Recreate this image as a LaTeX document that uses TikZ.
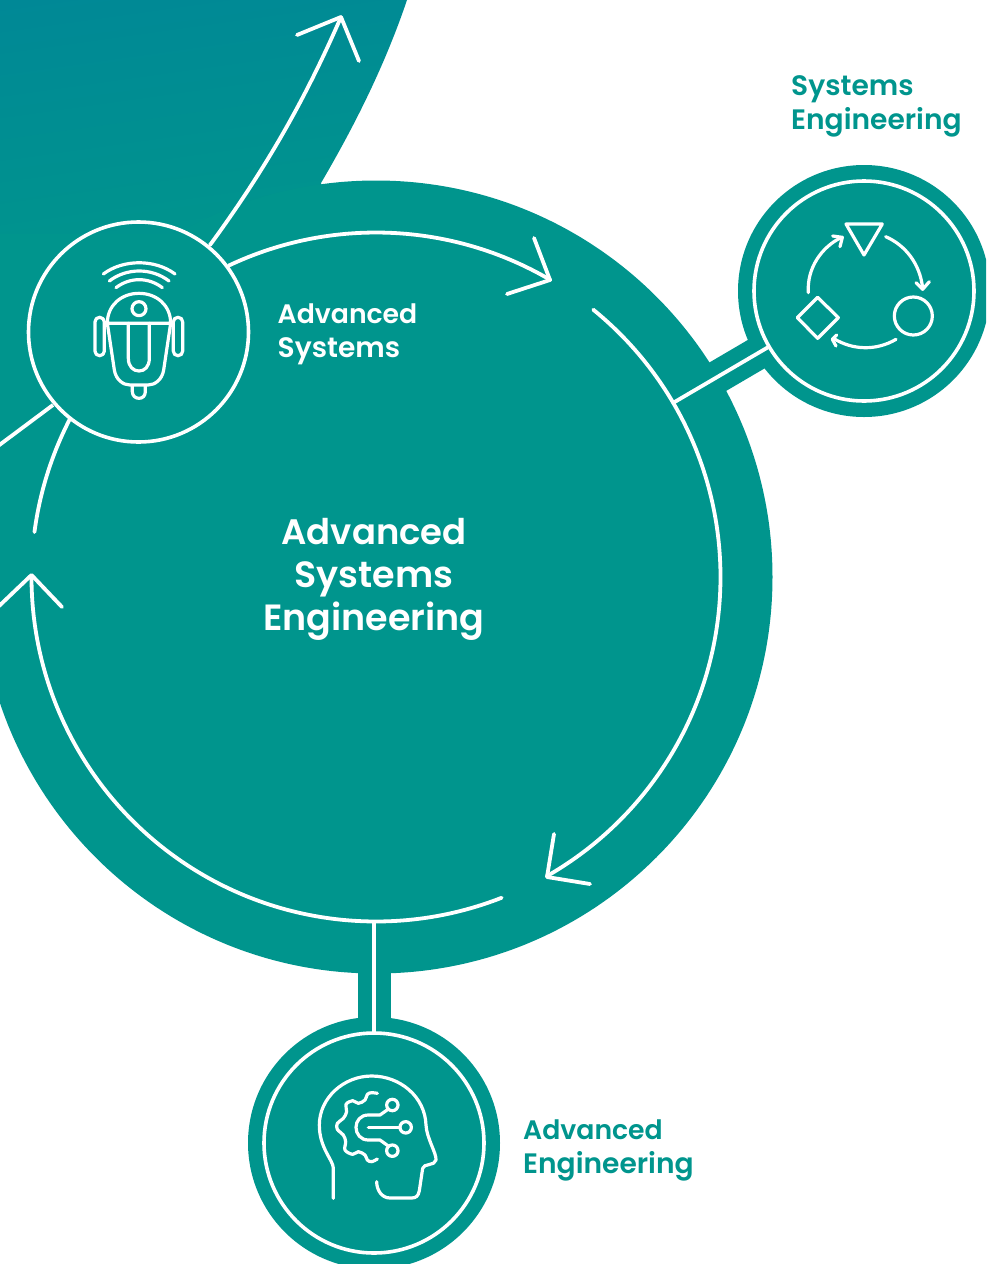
\documentclass[tikz,border=0pt]{standalone}
\usepackage{fontspec}
\setmainfont{Poppins}[BoldFont=Poppins SemiBold]
\usetikzlibrary{arrows.meta}
\definecolor{teal1}{HTML}{00958D}
\definecolor{teal2}{HTML}{008896}
\newcommand{\bigA}{\fontsize{35.4}{43}\selectfont}
\newcommand{\smA}{\fontsize{26.7}{34}\selectfont}
\tikzset{
  x=1pt,y=1pt,
  wline/.style={draw=white,line width=3.8pt,line cap=round,line join=round},
  icon/.style={draw=white,line width=3.2pt,line cap=round,line join=round},
  ringnode/.style={circle,draw=white,line width=3.6pt,inner sep=0pt,minimum size=#1},
  blob/.style={circle,fill=teal1,inner sep=0pt,minimum size=#1},
  bigtxt/.style={text=white,font=\bfseries\fontsize{36.5}{43}\selectfont,align=center},
  smalltxt/.style={font=\bfseries\fontsize{28.1}{34}\selectfont,align=left,inner sep=0pt},
}
\begin{document}
\begin{tikzpicture}
\useasboundingbox (0,-1264) rectangle (986,0);
\begin{scope}
\clip (0,-1264) rectangle (986,0);
% gradient backdrop
\begin{scope}
\clip (-50,60) -- (407,0) .. controls (385,-65) and (355,-125) .. (321,-183) -- (374,-577) -- (-50,-720) -- cycle;
\shade[shading=axis,bottom color=teal1,top color=teal2,shading angle=8] (-60,-235) rectangle (440,10);
\fill[teal1] (-60,-760) rectangle (440,-234);
\end{scope}
% blobs and bands
\coordinate (C) at (376,-577);
\node[blob=793pt] (mainblob) at (C) {};
\node[blob=252pt] (sysblob) at (864,-291) {};
\node[blob=252pt] (engblob) at (374,-1143) {};
\coordinate (bandS) at (374,-923);
\draw[teal1,line width=33pt] (mainblob.center) -- (sysblob.center);
\draw[teal1,line width=33pt] (bandS) -- (engblob.center);
% rings
\node[circle,inner sep=0pt,minimum size=689pt] (mainring) at (C) {};
\node[ringnode=220pt] (robot) at (138.5,-332) {};
\node[ringnode=220pt] (sys) at (864,-291) {};
\node[ringnode=220pt] (eng) at (374,-1143) {};
% connectors
\draw[wline] (mainring) -- (sys);
\draw[wline] (bandS) -- (eng);
% main arcs
\draw[wline] ([shift={(115.3:344.5)}]C) arc[start angle=115.3,end angle=59.6,radius=344.5pt];
\draw[wline] (534,-238) -- (550,-280) -- (507,-294);
\draw[wline] ([shift={(50.9:344.5)}]C) arc[start angle=50.9,end angle=-60.3,radius=344.5pt];
\draw[wline] (554,-834) -- (547,-877) -- (590,-884);
\draw[wline] ([shift={(-68.6:344.5)}]C) arc[start angle=-68.6,end angle=-180,radius=344.5pt];
\draw[wline] (-2,-607) -- (31.5,-575) -- (62,-607);
\draw[wline] ([shift={(172.5:344.5)}]C) arc[start angle=172.5,end angle=152.8,radius=344.5pt];
% robot links
\coordinate (lnkA) at (-2,-446);
\draw[wline,line cap=butt] (lnkA) -- (53,-405);
\coordinate (tip) at (341,-17);
\draw[wline] (210,-245) .. controls (265,-170) and (305,-100) .. (tip);
\draw[wline] (297,-35) -- (tip) -- (359,-61);
% robot icon
\begin{scope}[shift={(20,-210)},x=0.33333pt,y=-0.33333pt]
\draw[icon] (250,192) .. controls (310,147) and (405,147) .. (465,192);
\draw[icon] (268,213) .. controls (320,173) and (395,173) .. (447,213);
\draw[icon] (288,233) .. controls (330,201) and (385,201) .. (427,233);
\draw[icon] (262,340) .. controls (262,285) and (305,250) .. (357,250) .. controls (409,250) and (452,285) .. (452,340) -- cycle;
\draw[icon] (357,296) circle[radius=7pt];
\draw[icon] (262,340) -- (283,480) .. controls (288,510) and (310,525) .. (330,525) -- (384,525) .. controls (404,525) and (426,510) .. (431,480) -- (452,340);
\draw[icon] (325,340) -- (325,445) .. controls (325,470) and (340,483) .. (357,483) .. controls (374,483) and (388,470) .. (388,445) -- (388,340);
\draw[icon,rounded corners=4.5pt] (225,322) rectangle (253,437);
\draw[icon,rounded corners=4.5pt] (460,322) rectangle (488,437);
\draw[icon] (337,527) -- (337,545) .. controls (337,558) and (347,565) .. (357,565) .. controls (367,565) and (376,558) .. (376,545) -- (376,527);
\end{scope}
% systems icon
\begin{scope}[shift={(740,-160)},x=0.33333pt,y=-0.33333pt]
\draw[icon] (318,192) -- (427,192) -- (372,285) -- cycle;
\draw[icon] (520,468) circle[radius=19pt];
\draw[icon] (233,412) -- (295,473) -- (233,535) -- (172,473) -- cycle;
\draw[icon] (437,230) .. controls (495,255) and (540,310) .. (548,385);
\draw[icon] (528,368) -- (548,388) -- (568,365);
\draw[icon] (468,538) .. controls (410,572) and (340,572) .. (280,535);
\draw[icon] (290,525) -- (277,538) -- (288,558);
\draw[icon] (205,398) .. controls (200,325) and (245,260) .. (305,232);
\draw[icon] (278,228) -- (307,232) -- (300,260);
\end{scope}
% brain icon
\begin{scope}[shift={(290,-1060)},x=0.33333pt,y=-0.33333pt]
\draw[icon] (130,415) -- (130,325) .. controls (130,300) and (88,265) .. (88,195) .. controls (88,115) and (160,48) .. (245,48) .. controls (330,48) and (405,110) .. (408,195) .. controls (410,235) and (440,280) .. (438,300) .. controls (435,318) and (400,310) .. (398,325) -- (388,392) .. controls (385,408) and (378,414) .. (365,414) -- (300,414) .. controls (275,414) and (260,390) .. (260,365);
\draw[icon] plot[smooth,tension=0.6] coordinates {(262,100) (245,98) (232,103) (225,120) (205,130) (188,122) (168,133) (170,155) (160,175) (142,190) (142,208) (160,225) (167,245) (165,270) (188,283) (205,275) (225,285) (232,300) (245,305) (262,297)};
\draw[icon] (294,148) -- (270,165) -- (235,165) .. controls (212,165) and (198,182) .. (198,202) .. controls (198,222) and (212,240) .. (235,240) -- (270,240) -- (295,258);
\draw[icon] (235,202) -- (330,202);
\draw[icon] (307,135) circle[radius=5.7pt];
\draw[icon] (347,202) circle[radius=5.7pt];
\draw[icon] (307,272) circle[radius=5.7pt];
\end{scope}
% text
\node[bigtxt] (title) at (374,-579.5) {\bigA Advanced\\Systems\\Engineering};
\node[smalltxt,text=white,anchor=west] (t1) at (277.5,-334) {\smA Advanced\\Systems};
\node[smalltxt,text=teal1,anchor=west] (t2) at (791,-106) {Systems\\Engineering};
\node[smalltxt,text=teal1,anchor=west] (t3) at (523,-1150.5) {\smA Advanced\\Engineering};
\end{scope}
\end{tikzpicture}
\end{document}
